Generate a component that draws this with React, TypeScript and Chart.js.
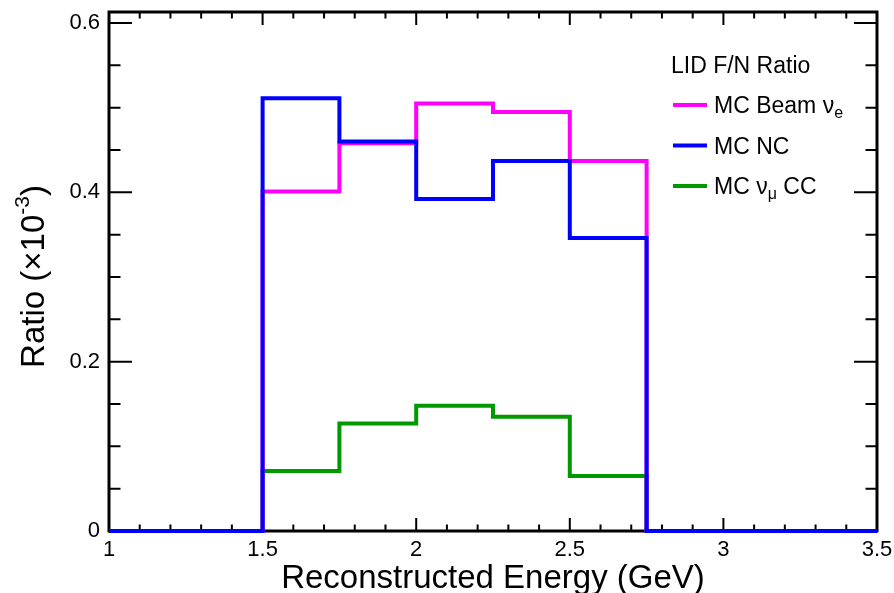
import { useEffect, useRef } from 'react';
import { Chart, registerables } from 'chart.js';

Chart.register(...registerables);

// Histogram binning: lower bin edges and the final upper edge (GeV)
const binLowEdges = [1, 1.25, 1.5, 1.75, 2, 2.25, 2.5, 2.75, 3, 3.25];
const upperEdge = 3.5;

// LID far/near ratio per bin (x10^-3)
const beamNue = [0, 0, 0.401, 0.458, 0.505, 0.495, 0.437, 0, 0, 0];
const ncRatio = [0, 0, 0.511, 0.46, 0.392, 0.437, 0.346, 0, 0, 0];
const numuCC = [0, 0, 0.071, 0.127, 0.148, 0.135, 0.065, 0, 0, 0];

const xMin = 1;
const xMax = 3.5;
const yMin = 0;
const yMax = 0.613;
const xMajorStep = 0.5;
const xMinorStep = 0.1;
const yMajorStep = 0.2;
const yMinorStep = 0.05;

const legendTitle = 'LID F/N Ratio';
// main text, subscript, trailing text
const legendEntries = [
  { dataset: 0, text: 'MC Beam ν', sub: 'e', tail: '' },
  { dataset: 1, text: 'MC NC', sub: '', tail: '' },
  { dataset: 2, text: 'MC ν', sub: 'μ', tail: ' CC' },
];

const FONT = '"Liberation Sans", Arial, Helvetica, sans-serif';

// One point per lower bin edge, plus the upper edge carrying the last bin's value
function stepPoints(values: number[]) {
  const pts = binLowEdges.map((x, i) => ({ x, y: values[i] }));
  pts.push({ x: upperEdge, y: values[values.length - 1] });
  return pts;
}

type Part = { t: string; size: number; dy: number };

function partsWidth(ctx: CanvasRenderingContext2D, parts: Part[]) {
  let w = 0;
  for (const p of parts) {
    ctx.font = `${p.size}px ${FONT}`;
    w += ctx.measureText(p.t).width;
  }
  return w;
}

function drawParts(ctx: CanvasRenderingContext2D, parts: Part[], x: number, y: number) {
  let cx = x;
  for (const p of parts) {
    ctx.font = `${p.size}px ${FONT}`;
    ctx.fillText(p.t, cx, y + p.dy);
    cx += ctx.measureText(p.t).width;
  }
}

const framePlugin = {
  id: 'rootFrame',
  beforeDatasetsDraw(chart: any) {
    const { ctx, chartArea } = chart;
    const xs = chart.scales.x;
    const ys = chart.scales.y;
    const { left, right, top, bottom } = chartArea;
    ctx.save();
    ctx.strokeStyle = '#000';
    ctx.lineWidth = 2;
    ctx.beginPath();
    const nx = Math.round((xMax - xMin) / xMinorStep);
    const perMajorX = Math.round(xMajorStep / xMinorStep);
    for (let i = 0; i <= nx; i++) {
      const px = xs.getPixelForValue(xMin + i * xMinorStep);
      const len = i % perMajorX === 0 ? 13 : 6.5;
      ctx.moveTo(px, bottom);
      ctx.lineTo(px, bottom - len);
      ctx.moveTo(px, top);
      ctx.lineTo(px, top + len);
    }
    const ny = Math.floor((yMax - yMin) / yMinorStep + 1e-6);
    const perMajorY = Math.round(yMajorStep / yMinorStep);
    for (let i = 0; i <= ny; i++) {
      const py = ys.getPixelForValue(yMin + i * yMinorStep);
      const len = i % perMajorY === 0 ? 23 : 11.5;
      ctx.moveTo(left, py);
      ctx.lineTo(left + len, py);
      ctx.moveTo(right, py);
      ctx.lineTo(right - len, py);
    }
    ctx.stroke();
    ctx.lineWidth = 3;
    ctx.strokeRect(left, top, right - left, bottom - top);
    ctx.restore();
  },
  afterDraw(chart: any) {
    const { ctx, chartArea } = chart;
    ctx.save();
    ctx.fillStyle = '#000';
    ctx.textBaseline = 'alphabetic';
    ctx.textAlign = 'left';

    // x-axis title
    const xTitle: Part[] = [{ t: 'Reconstructed Energy (GeV)', size: 33, dy: 0 }];
    const xw = partsWidth(ctx, xTitle);
    drawParts(ctx, xTitle, (chartArea.left + chartArea.right) / 2 - xw / 2, 588);

    // y-axis title with exponent
    const yTitle: Part[] = [
      { t: 'Ratio (×10', size: 33, dy: 0 },
      { t: '-3', size: 21, dy: -15 },
      { t: ')', size: 33, dy: 0 },
    ];
    const yw = partsWidth(ctx, yTitle);
    ctx.save();
    ctx.translate(44, 276.5);
    ctx.rotate(-Math.PI / 2);
    drawParts(ctx, yTitle, -yw / 2, 0);
    ctx.restore();

    // legend
    drawParts(ctx, [{ t: legendTitle, size: 23, dy: 0 }], 671, 73);
    legendEntries.forEach((e, i) => {
      const ds = chart.data.datasets[e.dataset];
      const baseY = 113 + i * 40.5;
      const lineY = 105 + i * 40.5;
      ctx.strokeStyle = ds.borderColor;
      ctx.lineWidth = 4;
      ctx.beginPath();
      ctx.moveTo(673, lineY);
      ctx.lineTo(707, lineY);
      ctx.stroke();
      const parts: Part[] = [{ t: e.text, size: 23, dy: 0 }];
      if (e.sub) parts.push({ t: e.sub, size: 16, dy: 5 });
      if (e.tail) parts.push({ t: e.tail, size: 23, dy: 0 });
      drawParts(ctx, parts, 714, baseY);
    });
    ctx.restore();
  },
};

export default function App() {
  const canvasRef = useRef<HTMLCanvasElement | null>(null);

  useEffect(() => {
    const canvas = canvasRef.current;
    if (!canvas) return;
    const common = {
      stepped: 'before' as const,
      borderWidth: 4,
      pointRadius: 0,
      fill: false,
      borderJoinStyle: 'miter' as const,
      clip: 6,
    };
    const chart = new Chart(canvas, {
      type: 'line',
      data: {
        datasets: [
          { ...common, label: 'MC Beam νe', data: stepPoints(beamNue), borderColor: '#ff00ff', order: 1 },
          { ...common, label: 'MC NC', data: stepPoints(ncRatio), borderColor: '#0000ff', order: 0 },
          { ...common, label: 'MC νμ CC', data: stepPoints(numuCC), borderColor: '#009900', order: 2 },
        ],
      },
      options: {
        animation: false,
        responsive: false,
        maintainAspectRatio: false,
        layout: { padding: { left: 0, top: 12, right: 17, bottom: 0 } },
        plugins: {
          legend: { display: false },
          tooltip: { enabled: false },
        },
        scales: {
          x: {
            type: 'linear',
            min: xMin,
            max: xMax,
            grid: { display: false, drawTicks: false },
            border: { display: false },
            ticks: {
              stepSize: xMajorStep,
              padding: 6,
              color: '#000',
              font: { family: FONT, size: 22 },
              maxRotation: 0,
              autoSkip: false,
              includeBounds: false,
              callback: (v: any) => String(Math.round(Number(v) * 10) / 10),
            },
            afterFit: (scale: any) => {
              scale.height = 62;
              scale.paddingLeft = 0;
              scale.paddingRight = 0;
            },
          },
          y: {
            type: 'linear',
            min: yMin,
            max: yMax,
            grid: { display: false, drawTicks: false },
            border: { display: false },
            ticks: {
              stepSize: yMajorStep,
              padding: 9,
              color: '#000',
              font: { family: FONT, size: 22 },
              includeBounds: false,
              callback: (v: any) => String(Math.round(Number(v) * 10) / 10),
            },
            afterFit: (scale: any) => {
              scale.width = 109;
              scale.paddingTop = 0;
              scale.paddingBottom = 0;
            },
          },
        },
      },
      plugins: [framePlugin],
    });
    return () => chart.destroy();
  }, []);

  return (
    <div style={{ position: 'fixed', left: 0, top: 0, width: 894, height: 593, background: '#fff' }}>
      <canvas ref={canvasRef} width={894} height={593} style={{ display: 'block' }} />
    </div>
  );
}
